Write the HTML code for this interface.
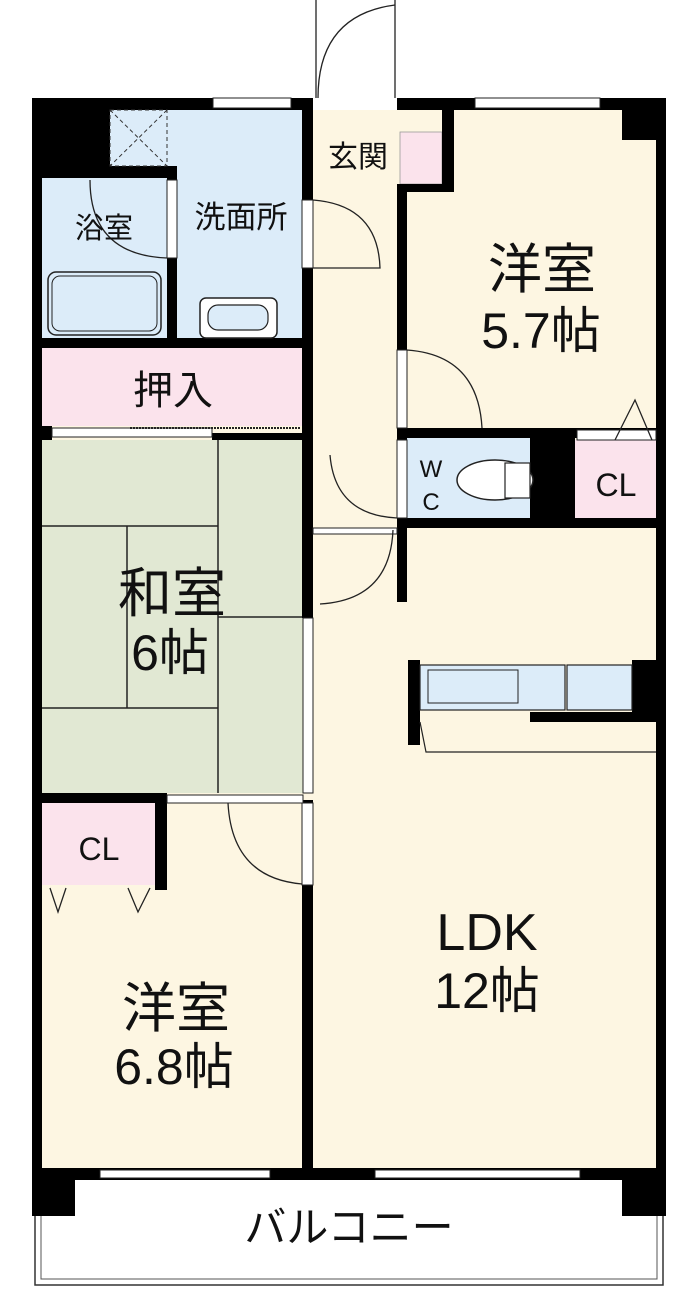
<!DOCTYPE html>
<html><head><meta charset="utf-8"><style>
html,body{margin:0;padding:0;background:#fff;}
svg{display:block;}
text{font-family:"Liberation Sans","Noto Sans CJK JP",sans-serif;fill:#111;}
</style></head><body>
<svg width="700" height="1296" viewBox="0 0 700 1296" xmlns="http://www.w3.org/2000/svg">
<!-- floors -->
<rect x="42" y="110" width="614" height="1060" fill="#fdf6e2"/>
<rect x="42" y="178" width="125" height="162" fill="#dcecf9"/>
<rect x="110" y="110" width="192" height="230" fill="#dcecf9"/>
<rect x="42" y="348" width="261" height="78" fill="#fbe3ec"/>
<rect x="42" y="440" width="261" height="353" fill="#e1e8d3"/>
<rect x="42" y="803" width="113" height="82" fill="#fbe3ec"/>
<rect x="400" y="132" width="42" height="52" fill="#fbe3ec" stroke="#999" stroke-width="0.8"/>
<rect x="407" y="438" width="123" height="82" fill="#dcecf9"/>
<rect x="575" y="440" width="81" height="80" fill="#fbe3ec"/>
<!-- tatami lines -->
<g stroke="#222" stroke-width="1.5" fill="none">
<line x1="218" y1="440" x2="218" y2="793"/>
<line x1="42" y1="526" x2="218" y2="526"/>
<line x1="42" y1="708" x2="218" y2="708"/>
<line x1="127" y1="526" x2="127" y2="708"/>
<line x1="218" y1="617" x2="303" y2="617"/>
</g>
<!-- balcony -->
<polyline points="35,1210 35,1285 663,1285 663,1210" fill="none" stroke="#333" stroke-width="1.5"/>
<polyline points="41,1210 41,1279 657,1279 657,1210" fill="none" stroke="#555" stroke-width="1"/>
<!-- walls -->
<g fill="#000">
<rect x="32" y="98" width="10" height="1082"/>
<rect x="656" y="98" width="10" height="1082"/>
<rect x="32" y="98" width="281" height="12"/>
<rect x="397" y="98" width="269" height="12"/>
<rect x="32" y="1168" width="634" height="12"/>
<rect x="32" y="98" width="78" height="70"/>
<rect x="42" y="166" width="135" height="12"/>
<rect x="167" y="166" width="10" height="182"/>
<rect x="42" y="338" width="271" height="10"/>
<rect x="302" y="98" width="11" height="520"/>
<rect x="442" y="98" width="12" height="94"/>
<rect x="397" y="184" width="57" height="8"/>
<rect x="397" y="184" width="10" height="418"/>
<rect x="622" y="110" width="34" height="30"/>
<rect x="400" y="428" width="256" height="10"/>
<rect x="530" y="430" width="45" height="90"/>
<rect x="400" y="518" width="266" height="10"/>
<rect x="42" y="426" width="10" height="14"/>
<rect x="212" y="433" width="91" height="7"/>
<rect x="42" y="793" width="125" height="10"/>
<rect x="155" y="793" width="12" height="97"/>
<rect x="302" y="800" width="11" height="370"/>
<rect x="32" y="1168" width="43" height="48"/>
<rect x="622" y="1168" width="44" height="48"/>
<rect x="408" y="660" width="12" height="85"/>
<rect x="632" y="660" width="24" height="55"/>
<rect x="530" y="712" width="126" height="10"/>
</g>
<!-- openings (white) -->
<g fill="#fff" stroke="#222" stroke-width="1">
<rect x="213" y="98" width="78" height="10"/>
<rect x="475" y="98" width="125" height="10"/>
<rect x="313" y="98" width="84" height="10" stroke="none"/>
<rect x="167" y="180" width="10" height="78"/>
<rect x="302" y="200" width="11" height="68"/>
<rect x="397" y="350" width="10" height="78"/>
<rect x="397" y="440" width="10" height="78"/>
<rect x="313" y="528" width="84" height="6"/>
<rect x="303" y="618" width="10" height="175"/>
<rect x="167" y="795" width="136" height="8"/>
<rect x="302" y="803" width="11" height="82"/>
<rect x="100" y="1170" width="170" height="8"/>
<rect x="375" y="1170" width="205" height="8"/>
<rect x="52" y="428" width="160" height="9"/>
<rect x="577" y="430" width="79" height="10"/>
</g>
<line x1="130" y1="428" x2="300" y2="428" stroke="#222" stroke-width="2" stroke-dasharray="2 1"/>
<!-- vent -->
<rect x="110" y="110" width="57" height="56" fill="#dcecf9" stroke="#333" stroke-dasharray="4 3"/>
<line x1="110" y1="110" x2="167" y2="166" stroke="#333" stroke-dasharray="4 3"/>
<line x1="167" y1="110" x2="110" y2="166" stroke="#333" stroke-dasharray="4 3"/>
<!-- fixtures -->
<rect x="48" y="272" width="113" height="63" rx="8" fill="#dcecf9" stroke="#222" stroke-width="1.5"/>
<rect x="52" y="276" width="105" height="55" rx="8" fill="none" stroke="#222" stroke-width="1"/>
<rect x="200" y="298" width="77" height="40" rx="6" fill="#fff" stroke="#222" stroke-width="1.5"/>
<rect x="208" y="305" width="60" height="25" rx="10" fill="#dcecf9" stroke="#222" stroke-width="1.2"/>
<ellipse cx="495" cy="480" rx="38" ry="20" fill="#fff" stroke="#222" stroke-width="1.5"/>
<rect x="505" y="463" width="25" height="35" fill="#fff" stroke="#222" stroke-width="1.2"/>
<rect x="420" y="665" width="145" height="45" fill="#dcecf9" stroke="#222" stroke-width="1.2"/>
<rect x="567" y="665" width="65" height="45" fill="#dcecf9" stroke="#222" stroke-width="1.2"/>
<rect x="428" y="670" width="90" height="33" fill="none" stroke="#222" stroke-width="1"/>
<polyline points="420,722 426,752 656,752" fill="none" stroke="#222" stroke-width="1.2"/>
<!-- doors arcs -->
<g fill="none" stroke="#222" stroke-width="1.3">
<line x1="316" y1="0" x2="316" y2="98"/><line x1="395" y1="0" x2="395" y2="98"/>
<path d="M318 98 Q318 15 395 5"/>
<path d="M90 180 Q90 255 167 258"/>
<path d="M313 200 Q378 205 380 268 L313 268"/>
<path d="M407 350 Q478 355 482 428"/>
<path d="M330 455 Q335 515 397 518"/>
<path d="M320 604 Q390 600 393 530"/>
<path d="M228 803 Q232 878 302 884"/>
<path d="M615 440 L635 400 L652 440"/>
<path d="M50 888 L58 912 L66 888 M128 888 L138 912 L150 888"/>
</g>
<!-- labels -->
<text x="104" y="238" font-size="29" text-anchor="middle">浴室</text>
<text x="241" y="228" font-size="31" text-anchor="middle">洗面所</text>
<text x="358" y="167" font-size="30" text-anchor="middle">玄関</text>
<text x="173" y="404" font-size="40" text-anchor="middle">押入</text>
<text x="542" y="288" font-size="54" text-anchor="middle">洋室</text>
<text x="541" y="348" font-size="50" text-anchor="middle">5.7帖</text>
<text x="431" y="477" font-size="24" text-anchor="middle">W</text>
<text x="431" y="510" font-size="24" text-anchor="middle">C</text>
<text x="616" y="496" font-size="32" text-anchor="middle">CL</text>
<text x="172" y="612" font-size="54" text-anchor="middle">和室</text>
<text x="170" y="670" font-size="50" text-anchor="middle">6帖</text>
<text x="99" y="860" font-size="32" text-anchor="middle">CL</text>
<text x="176" y="1027" font-size="54" text-anchor="middle">洋室</text>
<text x="174" y="1084" font-size="50" text-anchor="middle">6.8帖</text>
<text x="487" y="950" font-size="52" text-anchor="middle">LDK</text>
<text x="487" y="1008" font-size="50" text-anchor="middle">12帖</text>
<text x="349" y="1242" font-size="42" text-anchor="middle">バルコニー</text>
</svg>
</body></html>
